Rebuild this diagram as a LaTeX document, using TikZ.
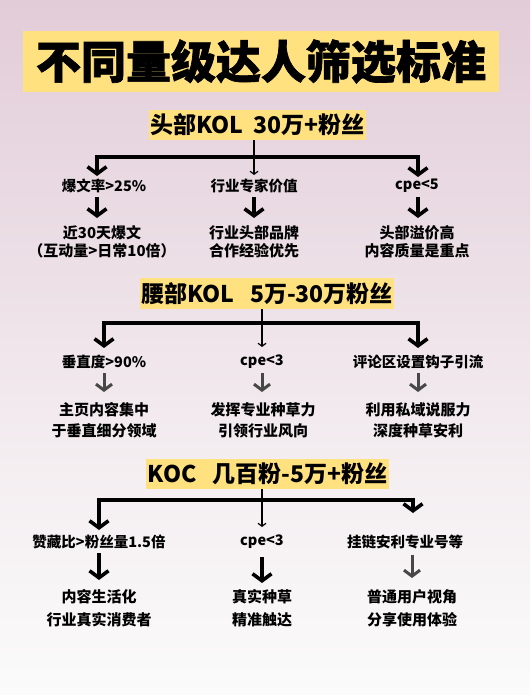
\documentclass[tikz,border=0pt]{standalone}
\usepackage{fontspec}
\setmainfont{Noto Sans CJK SC}
\newfontfamily\heavyfont{Noto Sans CJK SC}[BoldFeatures={FakeBold=1.5}]
\usetikzlibrary{arrows.meta}
\definecolor{hl}{HTML}{FFE27F}
\definecolor{bgtop}{HTML}{E2CCD8}
\definecolor{bgmid}{HTML}{F4EEF1}
\definecolor{bgbot}{HTML}{FBFBFB}
\definecolor{garrow}{HTML}{474747}
\begin{document}
\begin{tikzpicture}[x=1pt,y=-1pt,
  titlebox/.style={fill=hl, inner sep=0pt, minimum width=476pt, minimum height=61pt, font=\heavyfont\bfseries\fontsize{45}{45}\selectfont},
  hlbox/.style={fill=hl, inner sep=0pt, font=\bfseries\fontsize{23}{23}\selectfont},
  lvA/.style={font=\bfseries\fontsize{14.5}{16}\selectfont, inner sep=1pt},
  lvB/.style={font=\bfseries\fontsize{15}{18}\selectfont, align=center, inner sep=1pt},
  bararrow/.style={line width=3.6pt, line join=miter, {Straight Barb[length=7pt,width=19pt]}-{Straight Barb[length=7pt,width=19pt]}},
  bigarrow/.style={line width=3.6pt, -{Straight Barb[length=7pt,width=19pt]}},
  grayarrow/.style={line width=3pt, draw=garrow, -{Straight Barb[length=6pt,width=16pt]}},
  thinarrow/.style={line width=1.2pt, -{Straight Barb[length=3pt,width=8pt]}}
]
\useasboundingbox (0,0) rectangle (530,695);
\shade[top color=bgtop, bottom color=bgmid] (0,0) rectangle (530,470);
\shade[top color=bgmid, bottom color=bgbot] (0,470) rectangle (530,695);

% title
\node[titlebox] (T) at (261,61.5) {不同量级达人筛选标准};

% ---------- tree 1 ----------
\node[hlbox, minimum width=217pt, minimum height=30pt] (h1) at (257.5,125) {头部KOL\ \ 30万+粉丝};
\coordinate (b1) at (257,157);
\coordinate (a11) at (97,176);
\coordinate (a12) at (254,175);
\coordinate (a13) at (418,177);
\draw[bararrow] (a11) |- (b1) -| (a13);
\draw[thinarrow] (a12 |- h1.south) -- (a12);
\node[lvA] (l11) at (104,186) {爆文率>25\%};
\node[lvA] (l12) at (254,186) {行业专家价值};
\node[lvA] (l13) at (417,186) {cpe<5};
\coordinate (s11) at (97,197); \coordinate (e11) at (97,218);
\coordinate (s12) at (254,197); \coordinate (e12) at (254,218);
\coordinate (s13) at (418,197); \coordinate (e13) at (418,218);
\draw[bigarrow] (s11) -- (e11);
\draw[bigarrow] (s12) -- (e12);
\draw[bigarrow] (s13) -- (e13);
\node[lvB] (m11) at (102,242) {近30天爆文\\（互动量>日常10倍）};
\node[lvB] (m12) at (254,242) {行业头部品牌\\合作经验优先};
\node[lvB] (m13) at (417,242) {头部溢价高\\内容质量是重点};

% ---------- tree 2 ----------
\node[hlbox, minimum width=254pt, minimum height=31pt] (h2) at (267,293.5) {腰部KOL\ \ \ 5万-30万粉丝};
\coordinate (b2) at (262,323);
\coordinate (a21) at (104,348);
\coordinate (a22) at (262,347);
\coordinate (a23) at (418,348);
\draw[bararrow] (a21) |- (b2) -| (a23);
\draw[thinarrow] (a22 |- h2.south) -- (a22);
\node[lvA] (l21) at (104,362) {垂直度>90\%};
\node[lvA] (l22) at (262,362) {cpe<3};
\node[lvA] (l23) at (418,362) {评论区设置钩子引流};
\coordinate (s21) at (104,373); \coordinate (e21) at (104,392);
\coordinate (s22) at (262,373); \coordinate (e22) at (262,392);
\coordinate (s23) at (418,373); \coordinate (e23) at (418,392);
\draw[grayarrow] (s21) -- (e21);
\draw[grayarrow] (s22) -- (e22);
\draw[grayarrow] (s23) -- (e23);
\node[lvB, font=\bfseries\fontsize{15}{21}\selectfont] (m21) at (104,420.5) {主页内容集中\\于垂直细分领域};
\node[lvB, font=\bfseries\fontsize{15}{21}\selectfont] (m22) at (263,420.5) {发挥专业种草力\\引领行业风向};
\node[lvB, font=\bfseries\fontsize{15}{21}\selectfont] (m23) at (418,420.5) {利用私域说服力\\深度种草安利};

% ---------- tree 3 ----------
\node[hlbox, minimum width=243pt, minimum height=30pt] (h3) at (267.5,474) {KOC\ \ \ 几百粉-5万+粉丝};
\coordinate (b3) at (262,500);
\coordinate (a31) at (99,530);
\coordinate (a32) at (262,527);
\coordinate (a33) at (413,513);
\draw[bararrow] (a31) |- (b3) -| (a33);
\draw[thinarrow] (a32 |- h3.south) -- (a32);
\node[lvA] (l31) at (99,542) {赞藏比>粉丝量1.5倍};
\node[lvA] (l32) at (262,542) {cpe<3};
\node[lvA] (l33) at (405,542) {挂链安利专业号等};
\coordinate (s31) at (99,553); \coordinate (e31) at (99,580);
\coordinate (s32) at (262,557); \coordinate (e32) at (262,583);
\coordinate (s33) at (412,555); \coordinate (e33) at (412,578);
\draw[bigarrow] (s31) -- (e31);
\draw[bigarrow] (s32) -- (e32);
\draw[grayarrow] (s33) -- (e33);
\node[lvB, font=\bfseries\fontsize{15}{23}\selectfont] (m31) at (99,608.5) {内容生活化\\行业真实消费者};
\node[lvB, font=\bfseries\fontsize{15}{23}\selectfont] (m32) at (262,608.5) {真实种草\\精准触达};
\node[lvB, font=\bfseries\fontsize{15}{23}\selectfont] (m33) at (412,608.5) {普通用户视角\\分享使用体验};
\end{tikzpicture}
\end{document}
